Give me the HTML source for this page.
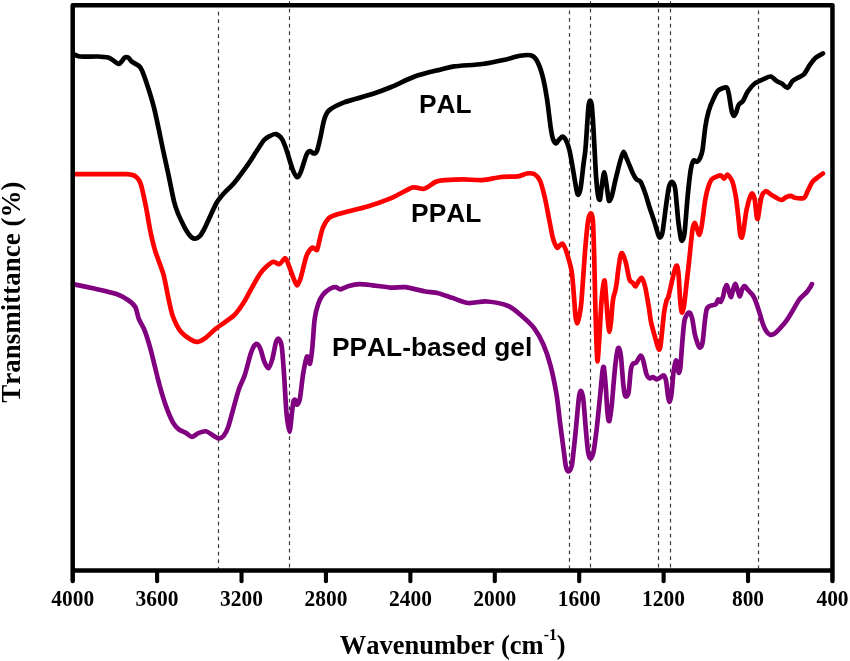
<!DOCTYPE html>
<html><head><meta charset="utf-8"><title>FTIR spectra</title>
<style>
html,body{margin:0;padding:0;background:#fff;}
svg{display:block;}
.tk{font-family:"Liberation Serif",serif;font-weight:bold;font-size:21.5px;font-kerning:none;fill:#000;}
.ax{font-family:"Liberation Serif",serif;font-weight:bold;font-kerning:none;fill:#000;}
.lb{font-family:"Liberation Sans",sans-serif;font-weight:bold;font-size:26.3px;font-kerning:none;fill:#000;}
</style></head><body>
<svg width="850" height="661" viewBox="0 0 850 661">
<rect width="850" height="661" fill="#fff"/>
<line x1="218.5" y1="11.8" x2="218.5" y2="570" stroke="#3a3a3a" stroke-width="1.2" stroke-dasharray="3.7 3.8"/>
<line x1="289.5" y1="1.3" x2="289.5" y2="570" stroke="#3a3a3a" stroke-width="1.2" stroke-dasharray="3.7 3.8"/>
<line x1="569.5" y1="10.5" x2="569.5" y2="570" stroke="#3a3a3a" stroke-width="1.2" stroke-dasharray="3.7 3.8"/>
<line x1="590.5" y1="1.3" x2="590.5" y2="570" stroke="#3a3a3a" stroke-width="1.2" stroke-dasharray="3.7 3.8"/>
<line x1="658.5" y1="1.3" x2="658.5" y2="570" stroke="#3a3a3a" stroke-width="1.2" stroke-dasharray="3.7 3.8"/>
<line x1="670.5" y1="1.3" x2="670.5" y2="570" stroke="#3a3a3a" stroke-width="1.2" stroke-dasharray="3.7 3.8"/>
<line x1="758.5" y1="10.5" x2="758.5" y2="570" stroke="#3a3a3a" stroke-width="1.2" stroke-dasharray="3.7 3.8"/>
<path d="M74.6,54.6C75.3,54.9 76.9,56.2 80.0,56.5C83.1,56.8 93.8,56.4 97.6,56.5C101.4,56.6 106.0,57.0 108.2,57.6C110.4,58.2 112.6,60.1 114.0,61.0C115.4,61.9 117.7,64.0 118.8,64.0C119.9,64.0 121.2,61.9 122.0,61.0C122.8,60.1 123.9,58.1 124.7,57.6C125.5,57.1 127.3,57.1 128.2,57.6C129.1,58.1 130.2,60.3 131.8,61.6C133.4,62.9 138.3,64.9 140.0,67.0C141.7,69.1 142.8,72.1 144.7,77.6C146.6,83.1 151.6,98.3 154.1,108.2C156.6,118.1 161.6,143.3 163.5,152.0C165.4,160.7 166.8,166.9 168.2,173.5C169.6,180.1 172.8,196.5 174.1,201.8C175.4,207.1 176.9,210.7 178.0,213.5C179.1,216.3 181.3,220.8 182.4,223.0C183.5,225.2 185.0,228.4 186.0,230.0C187.0,231.6 188.8,234.3 189.6,235.3C190.4,236.3 191.3,237.2 192.0,237.6C192.7,238.0 193.8,238.6 194.5,238.6C195.2,238.6 196.7,238.2 197.5,237.8C198.3,237.4 199.4,236.7 200.3,235.6C201.2,234.5 202.9,231.5 204.0,229.5C205.1,227.5 206.5,224.1 208.2,220.6C209.9,217.1 214.3,206.8 216.5,203.0C218.7,199.2 222.4,195.1 224.7,192.4C227.0,189.7 231.0,186.8 234.1,183.0C237.2,179.2 245.3,168.2 248.2,164.1C251.1,160.0 253.9,155.2 256.0,152.0C258.1,148.8 262.2,142.1 264.1,140.0C266.0,137.9 268.4,136.8 270.0,136.0C271.6,135.2 274.3,133.7 275.9,134.1C277.5,134.5 280.4,136.7 281.8,138.8C283.2,140.9 285.1,146.0 286.5,150.0C287.9,154.0 291.0,165.2 292.4,168.8C293.8,172.4 295.9,176.5 297.0,177.0C298.1,177.5 299.3,175.4 300.6,172.4C301.9,169.4 305.2,157.6 306.5,154.7C307.8,151.8 309.1,151.2 310.0,151.0C310.9,150.8 312.6,153.5 313.5,153.5C314.4,153.5 316.1,153.1 317.0,150.8C317.9,148.5 319.7,140.6 320.6,136.5C321.5,132.4 323.0,123.5 324.1,120.0C325.2,116.5 326.1,112.9 328.8,110.6C331.5,108.3 338.3,104.6 344.1,102.4C349.9,100.2 366.1,96.2 372.4,94.1C378.7,92.0 385.6,89.3 391.2,87.0C396.8,84.7 408.4,78.8 414.7,76.5C421.0,74.2 432.9,71.4 438.2,70.1C443.5,68.8 448.2,67.2 454.1,66.4C460.0,65.6 475.8,64.9 482.4,64.0C489.0,63.1 498.5,61.1 503.5,60.0C508.5,58.9 516.4,56.4 520.0,55.8C523.6,55.2 528.4,54.7 530.6,55.3C532.8,55.9 534.9,57.3 536.5,60.0C538.1,62.7 541.0,70.1 542.4,75.3C543.8,80.5 545.9,91.9 547.0,98.8C548.1,105.7 549.8,121.7 550.6,127.0C551.4,132.3 552.2,136.6 552.9,138.8C553.6,141.0 555.2,143.3 556.0,143.5C556.8,143.7 557.9,140.9 558.8,140.0C559.7,139.1 561.5,136.5 562.4,136.5C563.3,136.5 565.0,138.2 565.9,140.0C566.8,141.8 568.5,146.2 569.4,150.0C570.3,153.8 572.0,163.5 572.9,168.8C573.8,174.1 575.8,186.5 576.5,190.0C577.2,193.5 577.8,195.0 578.4,194.7C579.0,194.4 580.0,191.7 580.7,187.6C581.4,183.5 582.9,169.1 583.5,164.1C584.1,159.1 584.9,155.6 585.4,150.0C585.9,144.4 586.9,128.4 587.3,122.4C587.7,116.4 588.3,107.6 588.7,104.7C589.1,101.8 589.7,100.5 590.1,100.5C590.5,100.5 591.3,101.8 591.7,104.7C592.1,107.6 592.7,116.4 593.1,122.4C593.5,128.4 594.2,142.6 594.6,150.0C595.0,157.4 595.7,172.1 596.2,178.2C596.7,184.3 597.6,193.1 598.1,195.9C598.6,198.7 599.5,200.8 600.0,199.4C600.5,198.0 601.3,188.9 601.9,185.3C602.5,181.7 603.6,172.4 604.2,172.4C604.8,172.4 606.0,181.5 606.6,185.3C607.2,189.1 608.2,199.2 608.9,200.6C609.6,202.0 610.9,198.6 611.8,195.9C612.7,193.2 614.2,185.1 615.3,180.6C616.4,176.1 618.9,165.6 620.0,161.8C621.1,158.0 622.6,152.3 623.5,152.0C624.4,151.7 625.7,156.5 627.0,159.4C628.3,162.3 631.6,170.8 632.9,173.5C634.2,176.2 635.5,178.3 636.5,179.4C637.5,180.5 639.4,179.9 640.6,181.8C641.8,183.7 644.0,189.9 645.3,193.5C646.6,197.1 648.7,204.9 650.0,208.8C651.3,212.7 653.6,219.4 654.7,222.9C655.8,226.4 657.5,232.8 658.2,234.7C658.9,236.6 659.5,237.8 660.1,237.5C660.7,237.2 661.8,235.9 662.5,232.4C663.2,228.9 664.5,217.2 665.3,211.2C666.1,205.2 667.9,191.5 668.8,187.6C669.7,183.7 671.0,181.6 671.9,181.8C672.8,182.0 674.4,183.6 675.2,188.8C676.0,194.0 677.5,214.2 678.2,220.6C678.9,227.0 680.1,234.3 680.6,237.0C681.1,239.7 681.7,241.2 682.2,240.6C682.7,240.0 683.9,238.2 684.6,232.4C685.3,226.6 686.8,205.3 687.6,197.0C688.4,188.7 689.9,174.9 690.7,170.0C691.5,165.1 692.7,161.7 693.5,160.6C694.3,159.5 696.1,162.1 697.0,161.8C697.9,161.5 699.4,159.6 700.1,158.0C700.8,156.4 701.8,154.1 702.5,150.0C703.2,145.9 704.5,132.3 705.3,127.0C706.1,121.7 707.7,114.4 708.8,110.6C709.9,106.8 712.2,101.5 713.5,98.8C714.8,96.1 716.5,92.1 718.2,90.6C719.9,89.1 725.1,87.0 726.5,87.5C727.9,88.0 728.1,91.0 728.8,94.1C729.5,97.2 730.9,107.7 731.6,110.6C732.3,113.5 733.4,115.6 734.0,115.8C734.6,116.0 735.8,113.3 736.4,111.8C737.0,110.3 737.8,106.1 738.7,104.7C739.6,103.3 741.7,102.9 742.9,101.2C744.1,99.5 746.0,94.2 747.6,91.8C749.2,89.4 752.5,85.2 754.7,83.5C756.9,81.8 762.0,79.7 764.1,78.8C766.2,77.9 769.0,76.2 770.7,76.5C772.4,76.8 775.5,80.3 777.0,81.2C778.5,82.1 780.4,82.6 781.8,83.5C783.2,84.4 786.2,88.1 787.6,87.8C789.0,87.5 791.0,82.6 792.4,81.2C793.8,79.8 796.6,78.5 798.2,77.6C799.8,76.7 802.5,75.8 804.1,74.1C805.7,72.4 808.4,66.9 810.0,64.7C811.6,62.5 814.2,59.1 815.9,57.6C817.6,56.1 822.0,54.0 822.9,53.4" fill="none" stroke="#000" stroke-width="4.7" stroke-linejoin="round" stroke-linecap="round"/>
<path d="M73.0,174.2C76.6,174.2 92.9,174.2 100.0,174.2C107.1,174.2 121.9,174.1 126.0,174.2C130.1,174.3 129.8,174.4 131.0,174.6C132.2,174.8 134.0,175.3 135.0,176.0C136.0,176.7 137.7,178.3 138.5,179.5C139.3,180.7 140.2,181.7 141.2,185.3C142.2,188.9 144.6,200.2 145.9,206.5C147.2,212.8 149.3,226.4 150.6,232.4C151.9,238.4 153.6,245.6 155.3,251.2C157.0,256.8 161.7,268.1 163.5,274.7C165.3,281.3 167.7,295.4 169.0,301.0C170.3,306.6 171.4,312.6 172.9,316.5C174.4,320.4 177.8,327.6 180.0,330.6C182.2,333.6 187.1,337.3 189.4,338.8C191.7,340.3 195.4,342.1 197.6,341.9C199.8,341.7 203.4,339.4 205.9,337.6C208.4,335.8 212.7,331.2 216.5,328.2C220.3,325.2 230.4,318.8 234.1,315.3C237.8,311.8 241.9,305.2 244.0,302.0C246.1,298.8 247.9,294.8 250.0,291.2C252.1,287.6 257.2,278.0 259.4,274.7C261.6,271.4 264.6,268.2 266.5,266.5C268.4,264.8 271.8,262.1 273.5,261.8C275.2,261.5 277.8,264.6 279.4,264.1C281.0,263.6 284.0,258.0 285.3,258.2C286.6,258.4 287.7,262.6 288.8,265.3C289.9,268.0 292.4,275.5 293.5,278.2C294.6,280.9 296.1,285.3 297.0,285.3C297.9,285.3 299.3,282.1 300.6,278.2C301.9,274.3 304.9,260.0 306.5,255.9C308.1,251.8 311.0,248.4 312.4,247.6C313.8,246.8 316.1,250.9 317.0,250.0C317.9,249.1 318.6,243.6 319.4,240.6C320.2,237.6 321.6,230.6 322.9,227.6C324.2,224.6 327.1,219.9 328.8,218.2C330.5,216.5 333.2,215.6 335.9,214.7C338.6,213.8 344.6,212.3 348.8,211.2C353.0,210.1 361.9,208.2 367.6,206.5C373.3,204.8 385.2,200.7 391.2,198.2C397.2,195.7 408.0,188.9 412.4,187.6C416.8,186.3 421.0,189.6 424.1,188.8C427.2,188.0 433.1,182.9 435.9,181.8C438.7,180.7 441.3,180.5 445.0,180.2C448.7,179.9 458.5,179.4 463.5,179.4C468.5,179.4 477.4,180.4 482.4,180.1C487.4,179.8 496.5,177.5 501.2,177.0C505.9,176.5 514.2,176.9 517.6,176.4C521.0,175.9 524.8,173.8 527.0,173.5C529.2,173.2 532.4,173.1 534.1,174.0C535.8,174.9 538.6,177.5 540.0,180.6C541.4,183.7 543.4,191.7 544.7,197.0C546.0,202.3 548.3,215.1 549.4,220.6C550.5,226.1 551.9,234.6 552.9,238.2C553.9,241.8 556.1,246.7 557.0,247.6C557.9,248.5 559.2,245.8 560.0,245.3C560.8,244.8 561.9,243.0 562.8,244.1C563.7,245.2 565.8,249.7 567.0,253.5C568.2,257.3 570.8,266.1 571.8,272.4C572.8,278.7 573.8,295.1 574.3,301.0C574.8,306.9 575.1,313.5 575.5,316.5C575.9,319.5 576.7,323.5 577.2,323.5C577.7,323.5 578.7,319.5 579.3,316.5C579.9,313.5 580.8,309.1 581.5,301.0C582.2,292.9 583.9,266.3 584.7,255.9C585.5,245.5 587.0,228.6 587.8,222.9C588.6,217.2 589.9,213.8 590.6,213.5C591.3,213.2 592.4,214.4 592.9,220.6C593.4,226.8 594.0,249.3 594.3,260.0C594.6,270.7 594.9,291.0 595.2,301.0C595.5,311.0 595.9,327.2 596.2,335.3C596.5,343.4 597.1,361.5 597.5,361.5C597.9,361.5 599.0,343.4 599.5,335.3C600.0,327.2 601.0,307.4 601.5,301.0C602.0,294.6 602.6,289.7 603.0,287.0C603.4,284.3 604.3,278.9 604.7,280.6C605.1,282.3 605.9,294.9 606.3,300.0C606.7,305.1 607.3,314.6 607.7,318.8C608.1,323.0 608.9,331.8 609.4,331.8C609.9,331.8 610.9,322.4 611.3,318.8C611.7,315.2 612.1,308.0 612.4,305.0C612.7,302.0 613.3,297.8 613.7,296.0C614.1,294.2 614.8,293.2 615.2,291.3C615.6,289.4 616.4,285.1 616.8,282.0C617.2,278.9 618.0,271.4 618.5,268.0C619.0,264.6 619.8,258.5 620.3,256.5C620.8,254.5 621.5,252.4 622.2,253.3C622.9,254.2 624.9,259.4 625.9,262.9C626.9,266.4 628.5,276.7 629.4,279.4C630.3,282.1 632.1,282.0 632.9,282.9C633.7,283.8 634.7,286.8 635.5,286.5C636.3,286.2 638.1,281.7 639.0,280.6C639.9,279.5 641.2,277.3 642.0,278.2C642.8,279.1 644.4,283.7 645.3,287.5C646.2,291.3 648.0,302.4 648.8,307.0C649.6,311.6 650.2,318.1 651.0,322.0C651.8,325.9 653.7,332.3 654.7,335.9C655.7,339.5 657.7,347.5 658.5,348.8C659.3,350.1 659.9,350.2 660.6,345.3C661.3,340.4 663.3,318.4 664.1,312.4C664.9,306.4 666.0,302.5 666.5,300.6C667.0,298.7 667.5,299.4 668.0,298.0C668.5,296.6 669.4,292.5 670.0,290.0C670.6,287.5 671.7,282.2 672.4,279.4C673.1,276.6 674.4,270.8 675.0,269.0C675.6,267.2 676.5,265.0 677.0,265.8C677.5,266.6 678.2,270.4 678.6,274.7C679.0,279.0 679.6,293.2 680.0,298.2C680.4,303.2 681.3,311.5 681.8,312.4C682.3,313.3 683.5,309.1 684.1,305.3C684.7,301.5 685.9,289.6 686.5,284.1C687.1,278.6 688.0,271.2 688.8,264.0C689.6,256.8 691.6,235.5 692.4,230.0C693.2,224.5 694.1,223.1 694.7,222.9C695.3,222.7 696.4,227.2 697.0,228.8C697.6,230.4 698.8,235.2 699.4,234.7C700.0,234.2 701.0,230.0 701.8,225.3C702.6,220.6 704.4,204.7 705.3,199.4C706.2,194.1 707.9,188.1 708.8,185.3C709.7,182.5 710.8,180.0 712.4,178.7C714.0,177.4 719.0,175.4 720.6,175.4C722.2,175.4 723.2,178.8 724.1,178.7C725.0,178.6 726.5,174.3 727.6,174.7C728.7,175.1 731.3,178.8 732.4,181.8C733.5,184.8 735.1,192.5 735.9,197.0C736.7,201.5 737.6,211.0 738.2,215.9C738.8,220.8 739.6,230.6 740.1,233.5C740.6,236.4 741.3,238.0 741.8,237.5C742.3,237.0 743.0,233.7 743.6,230.0C744.2,226.3 745.6,214.4 746.5,210.0C747.4,205.6 749.2,199.2 750.0,197.0C750.8,194.8 751.8,193.2 752.4,193.5C753.0,193.8 754.1,196.4 754.7,199.4C755.3,202.4 756.2,213.3 756.6,215.9C757.0,218.5 757.4,219.6 757.8,218.7C758.2,217.8 758.9,211.8 759.4,208.8C759.9,205.8 760.9,198.2 761.8,195.9C762.7,193.6 764.7,191.4 766.0,191.2C767.3,191.0 769.7,193.8 771.2,194.7C772.7,195.6 775.6,197.5 777.0,198.2C778.4,198.9 780.5,200.1 781.8,199.9C783.1,199.7 785.2,197.5 786.5,197.0C787.8,196.5 790.1,195.8 791.2,195.9C792.3,196.0 793.0,197.5 794.7,197.8C796.4,198.1 802.4,198.7 804.1,197.8C805.8,196.9 806.5,193.3 807.6,191.2C808.7,189.1 811.0,183.7 812.4,181.8C813.8,179.9 816.8,178.1 818.2,177.0C819.6,175.9 822.3,174.0 822.9,173.5" fill="none" stroke="#ff0000" stroke-width="4.7" stroke-linejoin="round" stroke-linecap="round"/>
<path d="M73.0,284.1C76.0,284.7 89.5,287.5 95.3,288.8C101.1,290.1 112.1,292.5 116.5,294.0C120.9,295.5 125.5,298.3 128.0,300.0C130.5,301.7 133.9,304.5 135.3,307.0C136.7,309.5 137.5,315.7 138.8,318.8C140.1,321.9 143.1,326.5 144.7,330.6C146.3,334.7 148.7,342.5 150.6,349.4C152.5,356.3 156.8,374.9 158.8,382.4C160.8,389.9 164.0,400.6 165.9,405.9C167.8,411.2 171.2,419.3 172.9,422.4C174.6,425.5 177.1,428.0 178.8,429.4C180.5,430.8 184.2,431.9 185.9,432.9C187.6,433.9 190.1,436.9 191.8,436.9C193.5,436.9 196.9,433.6 198.8,432.9C200.7,432.2 204.0,431.0 205.9,431.3C207.8,431.6 211.2,434.4 212.9,435.3C214.6,436.2 217.4,438.3 218.8,438.4C220.2,438.5 222.2,437.5 223.5,436.0C224.8,434.5 226.8,431.0 228.2,427.0C229.6,423.0 232.7,410.9 234.1,405.9C235.5,400.9 237.4,393.5 238.8,389.4C240.2,385.3 243.1,380.0 244.7,375.3C246.3,370.6 249.3,358.0 250.6,354.1C251.9,350.2 253.2,347.2 254.1,345.9C255.0,344.6 256.4,343.5 257.3,344.0C258.2,344.5 259.7,347.1 260.6,349.4C261.5,351.7 263.1,358.7 264.1,361.2C265.1,363.7 267.3,368.5 268.4,368.2C269.5,367.9 271.4,362.2 272.4,358.8C273.4,355.4 275.1,345.1 275.9,342.4C276.7,339.7 277.9,338.2 278.7,338.8C279.5,339.4 281.1,342.1 281.8,347.0C282.5,351.9 283.5,366.5 284.1,375.3C284.7,384.1 285.8,405.4 286.5,412.9C287.2,420.4 288.8,431.8 289.5,431.8C290.2,431.8 291.4,417.0 291.9,412.9C292.4,408.8 293.1,402.9 293.5,401.2C293.9,399.5 294.7,399.5 295.2,400.0C295.7,400.5 296.4,404.9 297.0,404.7C297.6,404.5 299.1,402.7 299.9,398.8C300.7,394.9 302.0,380.8 302.9,375.3C303.8,369.8 305.8,359.9 306.5,357.6C307.2,355.3 308.0,357.2 308.5,358.0C309.0,358.8 309.5,365.0 310.0,363.5C310.5,362.0 311.8,353.0 312.4,347.0C313.0,341.0 313.9,324.5 314.7,318.8C315.5,313.1 317.1,307.2 318.2,304.0C319.3,300.8 321.3,296.7 322.9,294.7C324.5,292.7 328.3,289.8 330.0,288.8C331.7,287.8 334.5,287.1 335.9,287.2C337.3,287.3 338.9,289.5 340.6,289.3C342.3,289.1 346.3,286.7 348.8,286.0C351.3,285.3 356.3,284.2 359.4,284.1C362.5,284.0 368.2,284.8 372.4,285.3C376.6,285.8 386.8,287.3 391.2,287.6C395.6,287.9 400.9,286.7 405.3,287.2C409.7,287.7 419.7,290.4 424.1,291.2C428.5,292.0 434.8,292.4 438.2,293.2C441.6,294.0 447.3,296.3 449.4,297.0C451.5,297.7 451.6,297.7 454.1,298.5C456.6,299.3 463.8,302.6 468.2,303.0C472.6,303.4 481.7,301.1 487.0,301.5C492.3,301.9 503.5,304.0 508.2,306.0C512.9,308.0 518.9,313.5 522.4,316.5C525.9,319.5 531.3,324.4 534.1,328.2C536.9,332.0 541.3,339.7 543.5,344.7C545.7,349.7 548.9,359.3 550.6,365.9C552.3,372.5 555.2,386.6 556.5,394.1C557.8,401.6 559.1,415.6 560.0,422.4C560.9,429.2 562.2,439.2 563.0,445.0C563.8,450.8 565.1,462.5 565.8,466.0C566.5,469.5 567.8,471.5 568.6,471.5C569.4,471.5 571.0,468.6 571.7,466.0C572.4,463.4 572.9,457.1 573.5,452.0C574.1,446.9 575.3,435.3 576.0,428.0C576.7,420.7 578.3,401.9 579.0,397.0C579.7,392.1 580.4,390.6 581.0,391.0C581.6,391.4 582.8,394.9 583.4,400.0C584.0,405.1 585.2,422.1 585.8,429.0C586.4,435.9 587.5,448.1 588.1,452.0C588.7,455.9 589.7,458.6 590.4,458.6C591.1,458.6 592.6,456.1 593.5,452.0C594.4,447.9 595.9,435.6 596.8,428.0C597.7,420.4 599.4,402.7 600.2,395.0C601.0,387.3 602.1,373.6 602.6,370.0C603.1,366.4 603.6,365.9 604.0,368.0C604.4,370.1 605.2,379.9 605.7,386.0C606.2,392.1 607.1,409.3 607.6,414.0C608.1,418.7 608.8,422.1 609.3,421.0C609.8,419.9 610.9,412.6 611.7,405.5C612.5,398.4 614.2,375.4 615.0,368.0C615.8,360.6 617.0,352.9 617.5,350.3C618.0,347.7 618.6,347.4 619.1,348.3C619.6,349.2 620.4,352.0 621.0,357.0C621.6,362.0 622.8,380.3 623.4,385.5C624.0,390.7 624.5,395.0 625.2,396.0C625.9,397.0 627.8,396.5 628.5,393.0C629.2,389.5 630.2,373.9 630.8,370.0C631.4,366.1 632.0,365.0 632.7,364.0C633.4,363.0 635.4,363.3 636.2,362.5C637.0,361.7 638.1,359.1 638.7,358.2C639.3,357.3 640.4,355.4 641.0,355.8C641.6,356.2 642.7,358.5 643.4,361.0C644.1,363.5 645.7,372.2 646.6,374.5C647.5,376.8 648.9,378.1 649.8,378.4C650.7,378.7 652.1,376.9 653.0,377.0C653.9,377.1 655.6,379.2 656.5,379.3C657.4,379.4 659.1,378.3 660.0,377.8C660.9,377.3 662.8,375.0 663.6,375.4C664.4,375.8 665.4,377.8 666.0,380.5C666.6,383.2 667.5,393.2 668.0,396.0C668.5,398.8 669.1,402.1 669.6,401.7C670.1,401.3 671.1,397.0 671.6,393.0C672.1,389.0 673.0,375.8 673.6,371.5C674.2,367.2 675.5,361.2 676.0,360.5C676.5,359.8 677.1,364.4 677.5,366.0C677.9,367.6 678.3,372.6 678.7,372.8C679.1,373.0 680.0,371.1 680.4,367.5C680.8,363.9 681.5,352.2 682.0,346.0C682.5,339.8 683.7,325.3 684.4,321.0C685.1,316.7 686.9,314.6 687.6,313.5C688.3,312.4 689.4,312.2 690.0,313.0C690.6,313.8 691.8,316.7 692.4,319.4C693.0,322.1 694.0,330.2 694.7,333.5C695.4,336.8 697.1,342.2 697.8,344.1C698.5,346.0 699.5,347.8 700.1,347.6C700.7,347.4 701.9,346.3 702.5,342.9C703.1,339.5 704.3,326.2 704.8,321.8C705.3,317.4 706.0,312.0 706.5,310.0C707.0,308.0 708.0,307.1 708.8,306.5C709.6,305.9 711.5,305.6 712.4,305.3C713.3,305.0 715.1,304.9 715.9,304.1C716.7,303.3 717.6,299.7 718.2,299.4C718.8,299.1 720.0,302.1 720.6,301.8C721.2,301.5 722.3,298.7 722.9,297.0C723.5,295.3 724.3,290.4 724.8,288.8C725.3,287.2 726.4,285.0 726.9,285.3C727.4,285.6 728.2,289.6 728.8,291.2C729.4,292.8 730.6,297.4 731.2,297.0C731.8,296.6 732.9,289.7 733.5,288.0C734.1,286.3 735.0,283.7 735.6,284.1C736.2,284.5 737.3,289.6 737.9,291.2C738.5,292.8 739.4,296.5 740.0,296.2C740.6,295.9 741.7,290.2 742.3,288.8C742.9,287.4 744.0,285.9 744.7,286.0C745.4,286.1 746.6,288.3 747.6,289.5C748.6,290.7 751.3,293.1 752.4,294.7C753.5,296.3 755.0,299.4 755.9,301.8C756.8,304.2 758.5,309.4 759.4,312.4C760.3,315.4 762.0,321.5 762.9,324.1C763.8,326.7 765.6,330.2 766.5,331.6C767.4,333.0 768.9,334.4 770.0,334.7C771.1,335.0 773.3,334.4 774.7,333.5C776.1,332.6 779.0,329.3 780.6,327.6C782.2,325.9 784.9,322.8 786.5,320.6C788.1,318.4 790.7,314.0 792.4,311.2C794.1,308.4 797.5,301.9 799.4,299.4C801.3,296.9 805.1,294.0 806.5,292.4C807.9,290.8 809.3,288.7 810.0,287.6C810.7,286.5 811.6,284.6 811.9,284.1" fill="none" stroke="#800080" stroke-width="4.7" stroke-linejoin="round" stroke-linecap="round"/>
<rect x="72.7" y="5.2" width="759.75" height="565.2" fill="none" stroke="#000" stroke-width="4.5" stroke-linejoin="round"/>
<line x1="72.70" y1="572" x2="72.70" y2="580.95" stroke="#000" stroke-width="4.5" stroke-linecap="round"/>
<line x1="157.12" y1="572" x2="157.12" y2="581.15" stroke="#000" stroke-width="4.1" stroke-linecap="round"/>
<line x1="241.53" y1="572" x2="241.53" y2="581.15" stroke="#000" stroke-width="4.1" stroke-linecap="round"/>
<line x1="325.95" y1="572" x2="325.95" y2="581.15" stroke="#000" stroke-width="4.1" stroke-linecap="round"/>
<line x1="410.37" y1="572" x2="410.37" y2="581.15" stroke="#000" stroke-width="4.1" stroke-linecap="round"/>
<line x1="494.79" y1="572" x2="494.79" y2="581.15" stroke="#000" stroke-width="4.1" stroke-linecap="round"/>
<line x1="579.20" y1="572" x2="579.20" y2="581.15" stroke="#000" stroke-width="4.1" stroke-linecap="round"/>
<line x1="663.62" y1="572" x2="663.62" y2="581.15" stroke="#000" stroke-width="4.1" stroke-linecap="round"/>
<line x1="748.04" y1="572" x2="748.04" y2="581.15" stroke="#000" stroke-width="4.1" stroke-linecap="round"/>
<line x1="832.45" y1="572" x2="832.45" y2="580.95" stroke="#000" stroke-width="4.5" stroke-linecap="round"/>
<text transform="translate(72.7,606) scale(1,1.07)" text-anchor="middle" class="tk">4000</text>
<text transform="translate(157.1,606) scale(1,1.07)" text-anchor="middle" class="tk">3600</text>
<text transform="translate(241.5,606) scale(1,1.07)" text-anchor="middle" class="tk">3200</text>
<text transform="translate(326.0,606) scale(1,1.07)" text-anchor="middle" class="tk">2800</text>
<text transform="translate(410.4,606) scale(1,1.07)" text-anchor="middle" class="tk">2400</text>
<text transform="translate(494.8,606) scale(1,1.07)" text-anchor="middle" class="tk">2000</text>
<text transform="translate(579.2,606) scale(1,1.07)" text-anchor="middle" class="tk">1600</text>
<text transform="translate(663.6,606) scale(1,1.07)" text-anchor="middle" class="tk">1200</text>
<text transform="translate(748.0,606) scale(1,1.07)" text-anchor="middle" class="tk">800</text>
<text transform="translate(832.5,606) scale(1,1.07)" text-anchor="middle" class="tk">400</text>
<text x="452.7" y="654" text-anchor="middle" class="ax" font-size="26.5">Wavenumber (cm<tspan dy="-13.6" font-size="15.7">-1</tspan><tspan dy="13.6">)</tspan></text>
<text transform="translate(20.3,292.2) rotate(-90)" text-anchor="middle" class="ax" font-size="27">Transmittance (%)</text>
<text x="419" y="113.4" class="lb">PAL</text>
<text x="411.1" y="222.2" class="lb">PPAL</text>
<text x="332" y="355.8" class="lb">PPAL-based gel</text>
</svg>
</body></html>
